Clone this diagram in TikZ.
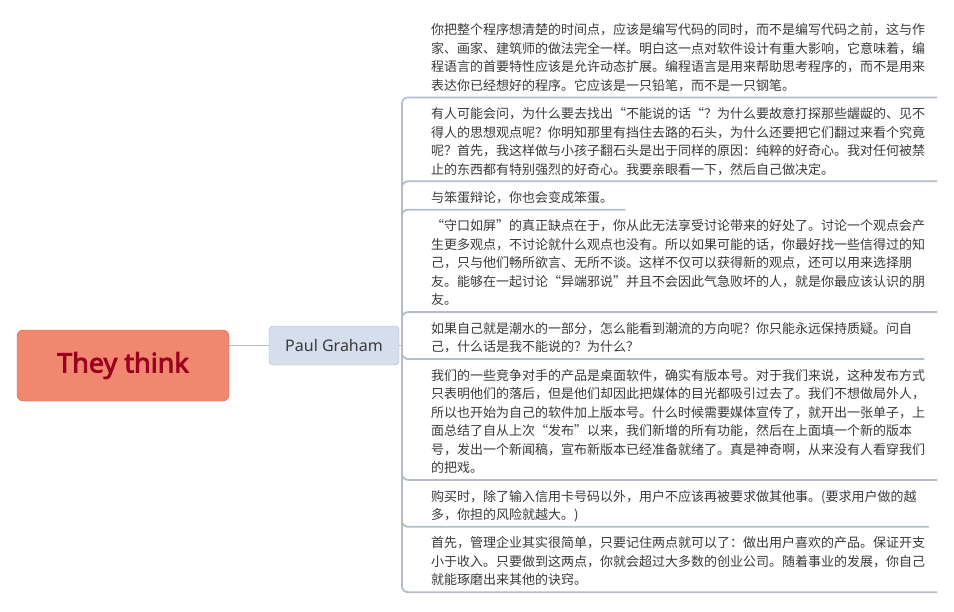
\documentclass[tikz,border=0pt]{standalone}
\usepackage{fontspec}
\newfontfamily\cjk{Noto Sans CJK SC}
\newfontfamily\lat{Noto Sans}
\newfontfamily\latbold{Noto Sans}[FakeBold=3]
\usetikzlibrary{positioning}
\definecolor{linegrey}{RGB}{180,188,202}
\definecolor{txtgrey}{RGB}{58,58,58}
\definecolor{pgfill}{RGB}{213,222,236}
\definecolor{pgline}{RGB}{168,180,200}
\definecolor{rootfill}{RGB}{240,136,112}
\definecolor{rootline}{RGB}{214,98,76}
\definecolor{rootred}{RGB}{155,0,32}
\newcommand\tstrut{\rule{0pt}{20.9pt}}
\newcommand\bstrut{\rule[-7.1pt]{0pt}{7.1pt}}
\begin{document}
\begin{tikzpicture}[x=1pt,y=-1pt,
    topic/.style={inner xsep=12pt,inner ysep=0pt,align=left,text=txtgrey,
      font=\cjk\fontsize{13}{18.5}\selectfont},
    branch/.style={draw=linegrey,line width=1.8pt,rounded corners=6pt}]
  \useasboundingbox (0,0) rectangle (954,611);

  \node (root) [fill=rootfill,draw=rootline,rounded corners=6pt,minimum width=212pt,
    minimum height=71pt,text=rootred,font=\latbold\fontsize{27}{32}\selectfont]
    at (123,365.5) {They think};
  \node (pg) [fill=pgfill,draw=pgline,rounded corners=4pt,minimum width=130pt,
    minimum height=39pt,text=txtgrey,font=\lat\fontsize{16}{19}\selectfont]
    at (334,345.5) {Paul Graham};
  \coordinate (fork) at (402,345.5);

  \node (t1) [topic,anchor=north west] at (419,13.5)
    {\tstrut 你把整个程序想清楚的时间点，应该是编写代码的同时，而不是编写代码之前，这与作\\
     家、画家、建筑师的做法完全一样。明白这一点对软件设计有重大影响，它意味着，编\\
     程语言的首要特性应该是允许动态扩展。编程语言是用来帮助思考程序的，而不是用来\\
     表达你已经想好的程序。它应该是一只铅笔，而不是一只钢笔。\bstrut};
  \node (t2) [topic,below right=0pt of t1.south west]
    {\tstrut 有人可能会问，为什么要去找出“不能说的话“？为什么要故意打探那些龌龊的、见不\\
     得人的思想观点呢？你明知那里有挡住去路的石头，为什么还要把它们翻过来看个究竟\\
     呢？首先，我这样做与小孩子翻石头是出于同样的原因：纯粹的好奇心。我对任何被禁\\
     止的东西都有特别强烈的好奇心。我要亲眼看一下，然后自己做决定。\bstrut};
  \node (t3) [topic,below right=0pt of t2.south west]
    {\tstrut 与笨蛋辩论，你也会变成笨蛋。\bstrut};
  \node (t4) [topic,below right=0pt of t3.south west]
    {\tstrut “守口如屏”的真正缺点在于，你从此无法享受讨论带来的好处了。讨论一个观点会产\\
     生更多观点，不讨论就什么观点也没有。所以如果可能的话，你最好找一些信得过的知\\
     己，只与他们畅所欲言、无所不谈。这样不仅可以获得新的观点，还可以用来选择朋\\
     友。能够在一起讨论“异端邪说”并且不会因此气急败坏的人，就是你最应该认识的朋\\
     友。\bstrut};
  \node (t5) [topic,below right=0pt of t4.south west]
    {\tstrut 如果自己就是潮水的一部分，怎么能看到潮流的方向呢？你只能永远保持质疑。问自\\
     己，什么话是我不能说的？为什么？\bstrut};
  \node (t6) [topic,below right=0pt of t5.south west]
    {\tstrut 我们的一些竞争对手的产品是桌面软件，确实有版本号。对于我们来说，这种发布方式\\
     只表明他们的落后，但是他们却因此把媒体的目光都吸引过去了。我们不想做局外人，\\
     所以也开始为自己的软件加上版本号。什么时候需要媒体宣传了，就开出一张单子，上\\
     面总结了自从上次“发布”以来，我们新增的所有功能，然后在上面填一个新的版本\\
     号，发出一个新闻稿，宣布新版本已经准备就绪了。真是神奇啊，从来没有人看穿我们\\
     的把戏。\bstrut};
  \node (t7) [topic,below right=0pt of t6.south west]
    {\tstrut 购买时，除了输入信用卡号码以外，用户不应该再被要求做其他事。(要求用户做的越\\
     多，你担的风险就越大。)\bstrut};
  \node (t8) [topic,below right=0pt of t7.south west]
    {\tstrut 首先，管理企业其实很简单，只要记住两点就可以了：做出用户喜欢的产品。保证开支\\
     小于收入。只要做到这两点，你就会超过大多数的创业公司。随着事业的发展，你自己\\
     就能琢磨出来其他的诀窍。\bstrut};

  \draw [branch] (root.east |- pg.west) -- (pg.west);
  \draw [branch] (pg.east) -- (fork);
  \foreach \t in {t1,t2,t3,t4,t5,t6,t7,t8}
    \draw [branch] (fork) |- (\t.south east);
\end{tikzpicture}
\end{document}
